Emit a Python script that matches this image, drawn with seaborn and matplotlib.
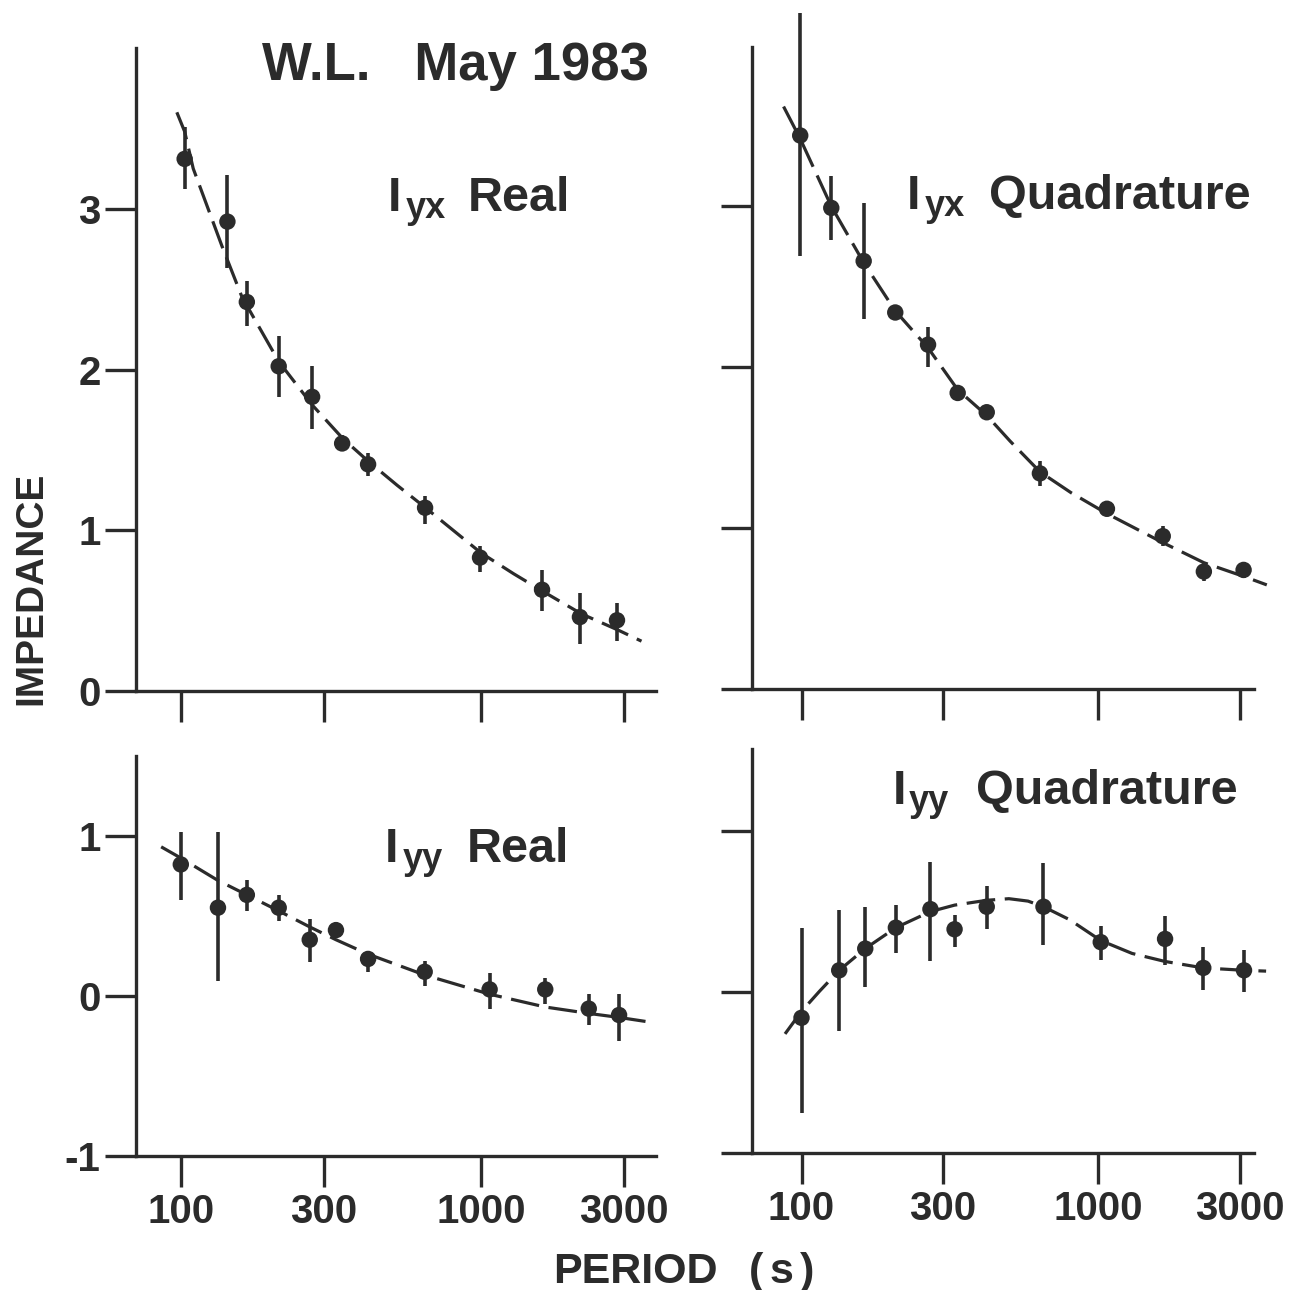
import matplotlib
matplotlib.use("Agg")
import matplotlib.pyplot as plt
import matplotlib.ticker as mticker
import pandas as pd
import seaborn as sns

W, H = 1294, 1290
INK = "#2b2b2b"

# ---------------- data ----------------
# I_yx Real (top left)
yxr_period = [103, 143, 166, 212, 274, 345, 421, 652, 994, 1600, 2140, 2844]
yxr_value = [3.31, 2.92, 2.42, 2.02, 1.83, 1.54, 1.41, 1.14, 0.83, 0.63, 0.46, 0.44]
yxr_low = [3.12, 2.63, 2.27, 1.83, 1.63, 1.49, 1.34, 1.04, 0.74, 0.50, 0.29, 0.31]
yxr_high = [3.51, 3.21, 2.55, 2.21, 2.02, 1.59, 1.48, 1.21, 0.90, 0.75, 0.61, 0.55]
yxr_fit_period = [97, 103, 110, 137, 160, 212, 274, 347, 421, 526, 654, 1000, 1285, 1610, 2164, 2862, 3433]
yxr_fit_value = [3.60, 3.48, 3.25, 2.77, 2.45, 2.05, 1.78, 1.57, 1.43, 1.28, 1.14, 0.86, 0.73, 0.62, 0.48, 0.38, 0.31]

# I_yx Quadrature (top right)
yxq_period = [99, 126, 162, 207, 267, 336, 421, 636, 1070, 1650, 2270, 3090]
yxq_value = [3.44, 2.99, 2.66, 2.34, 2.14, 1.84, 1.72, 1.34, 1.12, 0.95, 0.73, 0.74]
yxq_low = [2.69, 2.79, 2.30, 2.31, 2.00, 1.80, 1.69, 1.26, 1.09, 0.89, 0.67, 0.69]
yxq_high = [4.20, 3.19, 3.02, 2.37, 2.25, 1.88, 1.75, 1.42, 1.15, 1.01, 0.79, 0.79]
yxq_fit_period = [87, 99, 126, 162, 207, 267, 336, 421, 505, 636, 810, 1070, 1650, 2270, 3090, 3700]
yxq_fit_value = [3.62, 3.42, 3.00, 2.65, 2.35, 2.12, 1.86, 1.70, 1.54, 1.35, 1.22, 1.09, 0.91, 0.785, 0.70, 0.647]

# I_yy Real (bottom left)
yyr_period = [100, 133, 166, 212, 269, 329, 421, 650, 1070, 1640, 2290, 2890]
yyr_value = [0.82, 0.55, 0.63, 0.55, 0.35, 0.41, 0.23, 0.15, 0.04, 0.04, -0.08, -0.12]
yyr_low = [0.60, 0.09, 0.53, 0.47, 0.21, 0.37, 0.15, 0.06, -0.08, -0.05, -0.18, -0.28]
yyr_high = [1.02, 1.02, 0.72, 0.63, 0.48, 0.45, 0.28, 0.22, 0.14, 0.11, 0.01, 0.01]
yyr_fit_period = [86, 100, 133, 166, 212, 269, 329, 421, 650, 1070, 1640, 2290, 2890, 3540]
yyr_fit_value = [0.93, 0.86, 0.72, 0.63, 0.53, 0.43, 0.35, 0.26, 0.13, 0.01, -0.07, -0.11, -0.135, -0.16]

# I_yy Quadrature (bottom right)
yyq_period = [100, 134, 164, 208, 272, 328, 421, 654, 1020, 1680, 2260, 3100]
yyq_value = [-0.16, 0.135, 0.27, 0.40, 0.515, 0.39, 0.53, 0.53, 0.31, 0.33, 0.15, 0.135]
yyq_low = [-0.75, -0.24, 0.03, 0.24, 0.19, 0.28, 0.39, 0.29, 0.20, 0.17, 0.01, 0.00]
yyq_high = [0.40, 0.51, 0.53, 0.54, 0.81, 0.48, 0.66, 0.80, 0.41, 0.47, 0.28, 0.26]
yyq_fit_period = [88, 100, 115, 134, 164, 208, 272, 328, 421, 500, 580, 654, 800, 1020, 1300, 1680, 2260, 3100, 3680]
yyq_fit_value = [-0.26, -0.12, 0.005, 0.135, 0.27, 0.40, 0.50, 0.54, 0.57, 0.58, 0.565, 0.53, 0.45, 0.32, 0.24, 0.19, 0.15, 0.135, 0.13]

x_ticks = [100, 300, 1000, 3000]
x_tick_labels = ["100", "300", "1000", "3000"]
top_y_ticks = [0, 1, 2, 3]
top_y_labels = ["0", "1", "2", "3"]
bot_y_ticks = [-1, 0, 1]
bot_y_labels = ["-1", "0", "1"]

title_text = "W.L.   May 1983"
# panel labels: main letter, subscript, word
panel_main = ["I", "I", "I", "I"]
panel_sub = ["yx", "yx", "yy", "yy"]
panel_word = ["Real", "Quadrature", "Real", "Quadrature"]
y_title = "IMPEDANCE"
x_title = "PERIOD"

# ---------------- style ----------------
sns.set_style("ticks")
plt.rcParams["font.family"] = ["Liberation Sans", "DejaVu Sans"]
plt.rcParams["font.weight"] = "bold"
plt.rcParams["axes.unicode_minus"] = False

fig = plt.figure(figsize=(W / 100, H / 100), dpi=100)
fig.patch.set_facecolor("white")


def px_rect(x0, x1, ytop, ybot):
    return [x0 / W, 1 - ybot / H, (x1 - x0) / W, (ybot - ytop) / H]


def draw_panel(rect, period, value, low, high, fit_p, fit_v, xlim, ylim,
               yticks, ylabels, show_y, show_x):
    ax = fig.add_axes(rect)
    ax.set_xscale("log")
    pts = pd.DataFrame({"period": period, "value": value})
    fit = pd.DataFrame({"period": fit_p, "value": fit_v})
    sns.lineplot(data=fit, x="period", y="value", ax=ax, color=INK,
                 linewidth=2.3, linestyle=(0, (9, 3)), clip_on=False,
                 zorder=2, estimator=None)
    ax.vlines(period, low, high, color=INK, linewidth=2.6, clip_on=False, zorder=3)
    sns.scatterplot(data=pts, x="period", y="value", ax=ax, color=INK,
                    s=140, edgecolor="none", linewidth=0, zorder=4, clip_on=False)
    ax.set_xlim(*xlim)
    ax.set_ylim(*ylim)
    ax.set_xlabel("")
    ax.set_ylabel("")
    ax.xaxis.set_major_locator(mticker.FixedLocator(x_ticks))
    ax.xaxis.set_minor_locator(mticker.NullLocator())
    ax.yaxis.set_minor_locator(mticker.NullLocator())
    if show_x:
        ax.xaxis.set_major_formatter(mticker.FixedFormatter(x_tick_labels))
    else:
        ax.xaxis.set_major_formatter(mticker.NullFormatter())
    ax.yaxis.set_major_locator(mticker.FixedLocator(yticks))
    if show_y:
        ax.yaxis.set_major_formatter(mticker.FixedFormatter(ylabels))
    else:
        ax.yaxis.set_major_formatter(mticker.NullFormatter())
    for side in ["top", "right"]:
        ax.spines[side].set_visible(False)
    for side in ["left", "bottom"]:
        ax.spines[side].set_linewidth(2.4)
        ax.spines[side].set_color(INK)
    ax.tick_params(axis="both", which="major", direction="out", length=22,
                   width=2.4, color=INK, labelcolor=INK, labelsize=29,
                   bottom=True, left=True, top=False, right=False)
    ax.tick_params(axis="x", pad=4.5)
    ax.tick_params(axis="y", pad=3.5)
    ax.set_facecolor("none")
    return ax


draw_panel(px_rect(136, 656, 48, 691), yxr_period, yxr_value, yxr_low, yxr_high,
           yxr_fit_period, yxr_fit_value, (70.9, 3837), (0, 4.0),
           top_y_ticks, top_y_labels, True, False)
draw_panel(px_rect(752, 1254, 47, 689), yxq_period, yxq_value, yxq_low, yxq_high,
           yxq_fit_period, yxq_fit_value, (68.1, 3350), (0, 3.99),
           top_y_ticks, top_y_labels, False, False)
draw_panel(px_rect(136, 656, 755.5, 1156), yyr_period, yyr_value, yyr_low, yyr_high,
           yyr_fit_period, yyr_fit_value, (70.9, 3837), (-1, 1.5),
           bot_y_ticks, bot_y_labels, True, True)
draw_panel(px_rect(752, 1254, 749, 1153), yyq_period, yyq_value, yyq_low, yyq_high,
           yyq_fit_period, yyq_fit_value, (68.1, 3350), (-1, 1.51),
           bot_y_ticks, bot_y_labels, False, True)

# ---------------- texts ----------------
fig.text(262 / W, 1 - 80 / H, title_text, fontsize=38, fontweight="bold",
         color=INK, ha="left", va="baseline")

# (x of main letter, x of subscript, x of word, baseline)
label_layout = [(388, 406, 468, 211), (907, 925, 989, 209),
                (385, 403, 467, 862), (893, 909, 976, 804)]
for (mx, sx, wx, by), m, s, w in zip(label_layout, panel_main, panel_sub, panel_word):
    fig.text(mx / W, 1 - by / H, m, fontsize=35, fontweight="bold",
             color=INK, ha="left", va="baseline")
    fig.text(sx / W, 1 - (by + 7) / H, s, fontsize=26, fontweight="bold",
             color=INK, ha="left", va="baseline")
    fig.text(wx / W, 1 - by / H, w, fontsize=35, fontweight="bold",
             color=INK, ha="left", va="baseline")

fig.text(31 / W, 1 - 588 / H, y_title, rotation=90, fontsize=28,
         fontweight="bold", color=INK, ha="center", va="center")
fig.text(553 / W, 1 - 1283 / H, x_title, fontsize=31, fontweight="bold",
         color=INK, ha="left", va="baseline")
for cx, ch in [(749, "("), (770, "s"), (800, ")")]:
    fig.text(cx / W, 1 - 1283 / H, ch, fontsize=31, fontweight="bold",
             color=INK, ha="left", va="baseline")

fig.savefig("out.png", dpi=100, facecolor="white")
